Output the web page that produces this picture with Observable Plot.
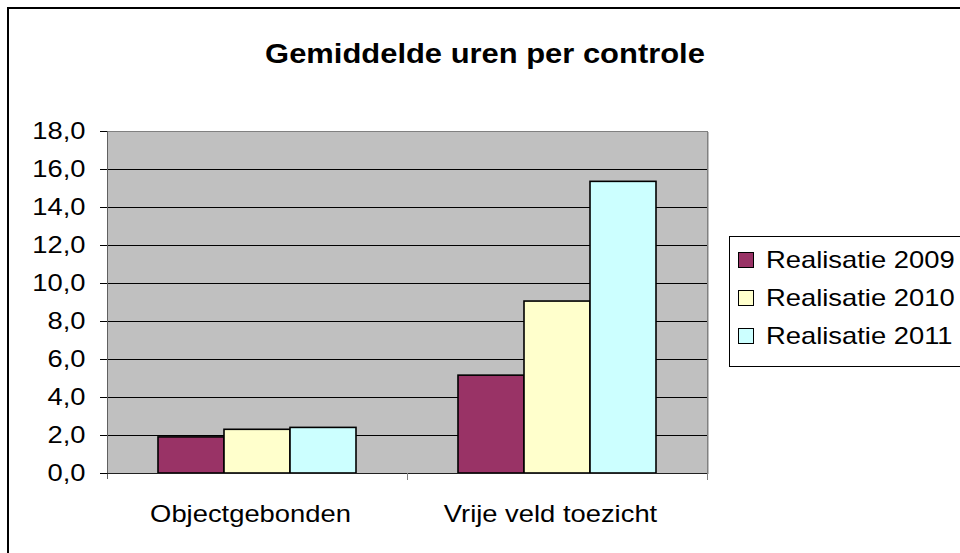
<!DOCTYPE html>
<html>
<head>
<meta charset="utf-8">
<script src="https://cdn.jsdelivr.net/npm/d3@7"></script>
<script src="https://cdn.jsdelivr.net/npm/@observablehq/plot@0.6"></script>
<style>
  html, body { margin: 0; padding: 0; background: #fff; overflow: hidden; }
  #wrap { position: relative; width: 960px; height: 553px; overflow: hidden; font-family: "Liberation Sans", Arial, sans-serif; }
  #frame { position: absolute; left: 7px; top: 7px; width: 2000px; height: 2000px; border-left: 2px solid #000; border-top: 2px solid #000; pointer-events: none; }
  #title { position: absolute; left: 485px; top: 41px; font-weight: bold; font-size: 27px; line-height: 27px; white-space: nowrap; transform: translateX(-50%) scaleX(1.145); color: #000; }
  #legend { position: absolute; left: 729px; top: 236px; width: 400px; height: 131px; border: 1px solid #000; box-sizing: border-box; background: #fff; }
  .item { position: absolute; left: 0; height: 24px; white-space: nowrap; }
  .sw { position: absolute; left: 8px; top: 4px; width: 14px; height: 14px; border: 1px solid #000; }
  .lab { position: absolute; left: 36px; top: 0; font-size: 24px; line-height: 24px; transform: scaleX(1.14); transform-origin: left center; color: #000; }
  svg { position: absolute; left: 0; top: 0; }
</style>
</head>
<body>
<div id="wrap"></div>
<script>
// ---- data ----
const categories = ["Objectgebonden", "Vrije veld toezicht"];
const series = ["Realisatie 2009", "Realisatie 2010", "Realisatie 2011"];
const seriesColors = ["#993366", "#FFFFCC", "#CCFFFF"];
const objectgebonden = [1.9, 2.3, 2.4];
const vrijeVeldToezicht = [5.15, 9.05, 15.35];
const yTicks = [0, 2, 4, 6, 8, 10, 12, 14, 16, 18];
const gridLines = [2, 4, 6, 8, 10, 12, 14, 16];
const titleText = "Gemiddelde uren per controle";

const values = [objectgebonden, vrijeVeldToezicht];
const data = [];
categories.forEach((c, i) => series.forEach((s, j) => data.push({category: c, series: s, value: values[i][j]})));

const fmt = d => d.toFixed(1).replace(".", ",");

const chart = Plot.plot({
  width: 960,
  height: 553,
  marginLeft: 107,
  marginRight: 253,
  marginTop: 131,
  marginBottom: 80,
  style: {fontFamily: "'Liberation Sans', Arial, sans-serif", fontSize: "24px", color: "#000", background: "transparent", overflow: "visible"},
  fx: {domain: categories, padding: 0, label: null},
  x: {domain: series, paddingInner: 0, paddingOuter: 0.75, axis: null},
  y: {domain: [0, 18], axis: null},
  color: {domain: series, range: seriesColors},
  marks: [
    Plot.frame({fill: "#c0c0c0", stroke: null, shapeRendering: "crispEdges", insetRight: -1}),
    Plot.ruleY(gridLines, {stroke: "#000", strokeWidth: 1}),
    Plot.barY(data, {fx: "category", x: "series", y: "value", fill: "series", stroke: "#000", strokeWidth: 1.6}),
    Plot.axisY(yTicks, {anchor: "left", tickSize: 7, tickPadding: 15, tickFormat: fmt, label: null, stroke: "#000", strokeOpacity: 1}),
    Plot.axisFx({anchor: "bottom", tickSize: 0, tickPadding: 31, label: null, dx: -7})
  ]
});

const wrap = document.getElementById("wrap");
wrap.appendChild(chart);

// plot-area border and axis lines derived from the chart's scales
const ys = chart.scale("y"), fxs = chart.scale("fx");
const y0 = ys.apply(0), yTop = ys.apply(18);
const left = fxs.apply(categories[0]);
const right = fxs.apply(categories[categories.length - 1]) + fxs.bandwidth;
const svg = d3.select(chart);
const g = svg.append("g").attr("shape-rendering", "crispEdges");
const line = (x1, y1, x2, y2, c) => g.append("line").attr("x1", x1).attr("y1", y1).attr("x2", x2).attr("y2", y2).attr("stroke", c).attr("stroke-width", 1);
line(left, Math.round(yTop) + 0.5, right, Math.round(yTop) + 0.5, "#808080");
line(Math.round(right) + 0.5, yTop, Math.round(right) + 0.5, y0 + 7, "#808080");
line(Math.round(left) + 0.5, yTop, Math.round(left) + 0.5, y0 + 6, "#606060");
line(left, Math.round(y0) + 0.5, right, Math.round(y0) + 0.5, "#202020");
categories.slice(1).forEach(c => line(Math.round(fxs.apply(c)) + 0.5, y0, Math.round(fxs.apply(c)) + 0.5, y0 + 7, "#808080"));

// stretch axis text horizontally like the original rendering
svg.selectAll("g[aria-label$='tick label'] text").each(function() {
  const len = this.getComputedTextLength();
  this.setAttribute("textLength", len * 1.14);
  this.setAttribute("lengthAdjust", "spacingAndGlyphs");
});

// outer chart frame
const frame = document.createElement("div");
frame.id = "frame";
wrap.appendChild(frame);

// title
const title = document.createElement("div");
title.id = "title";
title.textContent = titleText;
wrap.appendChild(title);

// legend (colours from the chart's color scale)
const cs = chart.scale("color");
const legend = document.createElement("div");
legend.id = "legend";
series.forEach((s, i) => {
  const item = document.createElement("div");
  item.className = "item";
  item.style.top = (11 + i * 38) + "px";
  const sw = document.createElement("div");
  sw.className = "sw";
  sw.style.background = cs.apply(s);
  const lab = document.createElement("div");
  lab.className = "lab";
  lab.textContent = s;
  item.appendChild(sw);
  item.appendChild(lab);
  legend.appendChild(item);
});
wrap.appendChild(legend);
</script>
</body>
</html>
